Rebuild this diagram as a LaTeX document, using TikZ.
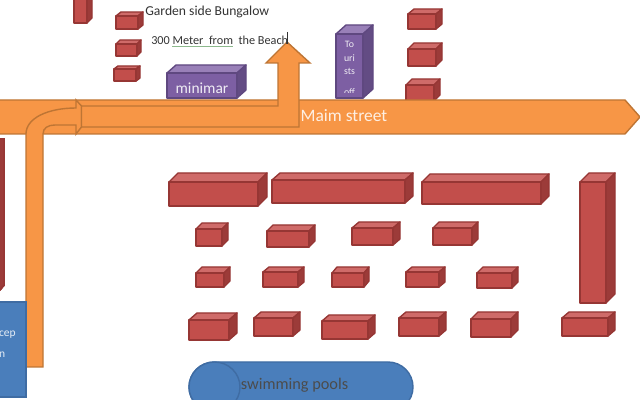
\documentclass[tikz,border=0pt]{standalone}
\usepackage{fontspec}
\setmainfont{Carlito}
\usepackage{tikz}
\definecolor{brickfront}{HTML}{C24E4B}
\definecolor{bricktop}{HTML}{CF6B69}
\definecolor{brickside}{HTML}{9C3B39}
\definecolor{brickline}{HTML}{963634}
\definecolor{shopfront}{HTML}{7D5FA3}
\definecolor{shoptop}{HTML}{9980B8}
\definecolor{shopside}{HTML}{634C84}
\definecolor{shopline}{HTML}{5F4880}
\definecolor{roadfill}{HTML}{F79646}
\definecolor{roadline}{HTML}{BE7534}
\definecolor{poolfill}{HTML}{4A7EBB}
\definecolor{poolline}{HTML}{3F6CA3}
\definecolor{spellmark}{HTML}{8DB98D}
\tikzstyle{road} = [draw=roadline,fill=roadfill,line width=1pt,line join=miter]
\tikzstyle{pool} = [draw=poolline,fill=poolfill,line width=1pt]
\tikzstyle{caption} = [inner sep=0pt,text=black!80,font=\fontsize{9.7}{9.7}\selectfont]
\tikzstyle{sign} = [inner sep=0pt,text=white!88!shopfront,font=\fontsize{7}{7}\selectfont]
% front face from (x1,y1) to (x2,y2), pushed back by (dx,dy), colours by prefix
\newcommand{\brick}[7][brick]{
    \path[fill=#1top,draw=#1line,line width=1pt,line join=round] (#2,#3) -- ++(#6,-#7) -- (#4+#6,#3-#7) -- (#4,#3) -- cycle;
    \path[fill=#1side,draw=#1line,line width=1pt,line join=round] (#4,#3) -- (#4+#6,#3-#7) -- (#4+#6,#5-#7) -- (#4,#5) -- cycle;
    \path[fill=#1front,draw=#1line,line width=1pt,line join=round] (#2,#3) rectangle (#4,#5);
}
\begin{document}
\begin{tikzpicture}[x=0.025cm,y=-0.025cm]
    \useasboundingbox (0,0) rectangle (640,400);
    \clip (0,0) rectangle (640,400);
    % Bungalows, one row per line of the list
    \foreach \xa/\ya/\xb/\yb/\dx/\dy in {
        74/-5/87/23/5/5, 116/16/138/29/5/4, 116/44/137/56/4/4, 114/69/136/81/4/3,
        408/14/436/29/6/5, 408/49/436/66/6/6, 406/85/434/101/6/6,
        169/182/258/206/9/9, 272/180/405/203/8/7, 422/182/541/204/8/8, 580/182/606/303/9/9,
        196/229/222/246/6/6, 267/231/309/247/6/6, 352/228/393/245/7/6, 433/228/472/245/6/6,
        196/273/224/287/6/6, 263/272/298/287/6/5, 332/273/364/287/5/6, 406/272/439/287/6/5, 477/273/512/288/6/6,
        189/320/229/340/8/7, 254/318/293/336/7/6, 322/321/368/339/7/6, 399/318/439/336/7/6, 471/319/511/337/7/7, 562/318/608/336/7/6}
        \brick{\xa}{\ya}{\xb}{\yb}{\dx}{\dy}
    % Tall block cut by the left edge
    \path[fill=brickside,draw=brickline,line width=1pt] (-5,139) -- (4,139) -- (4,285) -- (-5,295) -- cycle;
    % Purple shops
    \brick[shop]{167}{73}{237}{98}{9}{8}
    \brick[shop]{336}{34}{363}{98}{10}{9}
    \node[sign,font=\fontsize{11}{11}\selectfont] (minimar) at (202,88) {minimar};
    \node[sign] (tourists1) at (349.5,44) {To};
    \node[sign] (tourists2) at (349.5,58) {uri};
    \node[sign] (tourists3) at (349.5,71) {sts};
    \begin{scope}
        \clip (336,85) rectangle (363,93);
        \node[sign] (tourists4) at (349.5,92) {off};
    \end{scope}
    % Street
    \path[road] (-5,100) -- (625,100) -- (640,117) -- (625,134) -- (-5,134) -- cycle;
    \node[inner sep=0pt,text=white!85!roadfill,font=\fontsize{12.4}{12.4}\selectfont] (street) at (344,116) {Maim street};
    % Bent arrow coming up from reception
    \path[road] (26,367) -- (26,134) .. controls (26,118) and (48,108) .. (76,108) -- (76,100)
        -- (81.5,106) -- (81.5,127) -- (76,134) -- (76,125) -- (55,125) .. controls (48,125) and (43,128) .. (43,134)
        -- (43,367) -- cycle;
    % Arrow turning up towards the beach
    \path[road] (81.5,106) -- (278,106) -- (278,63) -- (266,63) -- (287,42) -- (310,63) -- (299,63) -- (299,127) -- (81.5,127) -- cycle;
    % Reception block
    \path[pool] (-5,302) rectangle (26,397);
    \node[inner sep=0pt,text=white!85!poolfill,font=\fontsize{8.2}{8.2}\selectfont,anchor=east] (reception1) at (16,335) {cep};
    \node[inner sep=0pt,text=white!85!poolfill,font=\fontsize{8.2}{8.2}\selectfont,anchor=east] (reception2) at (5.5,355) {n};
    % Swimming pool, seen as a lying can
    \path[pool] (214,362) -- (388,362) arc (-90:90:25) -- (214,412) arc (90:270:25) -- cycle;
    \path[pool] (214.5,387) ellipse (25.5 and 25);
    \node[inner sep=0pt,text=black!70,font=\fontsize{11.6}{11.6}\selectfont] (pools) at (294.5,385) {swimming pools};
    % Notes at the top
    \node[caption,anchor=west] (garden) at (145,12) {Garden side Bungalow};
    \node[caption,anchor=west,font=\fontsize{8.7}{8.7}\selectfont] (beach) at (151,40) {300 Meter\ \ from\ \ the Beach};
    \draw[spellmark,line width=0.6pt] (172,46) -- (233,46);
    \draw[black!80,line width=0.5pt] (287,32) -- (287,44);
\end{tikzpicture}
\end{document}
